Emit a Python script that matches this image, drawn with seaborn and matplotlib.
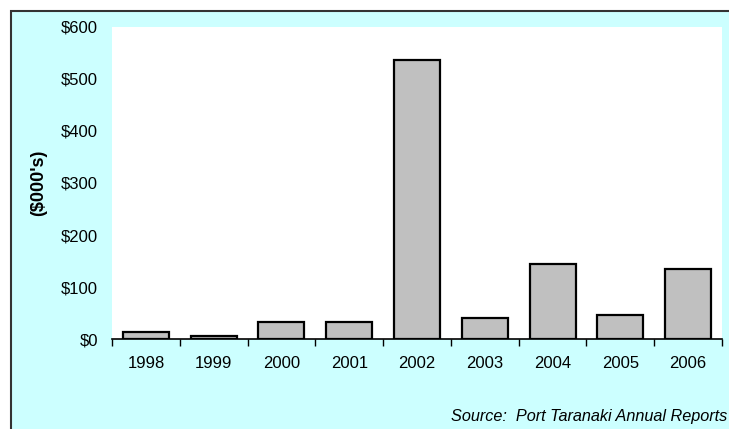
import matplotlib
matplotlib.use("Agg")
import matplotlib.pyplot as plt
from matplotlib.patches import Rectangle
from matplotlib.ticker import FixedLocator, FuncFormatter
import seaborn as sns
import pandas as pd

years = ["1998", "1999", "2000", "2001", "2002", "2003", "2004", "2005", "2006"]
values = [14, 7, 34, 33, 536, 41, 144, 47, 134]
y_ticks = [0, 100, 200, 300, 400, 500, 600]
y_label = "($000's)"
source_note = "Source:  Port Taranaki Annual Reports"

sns.set_theme(style="white")
plt.rcParams["font.family"] = ["Liberation Sans", "DejaVu Sans"]

W, H = 729, 429
fig = plt.figure(figsize=(W / 100, H / 100), dpi=100, facecolor="white")

# cyan chart area with a dark frame
fig.patches.append(Rectangle((11 / W, -0.1), 1.2, (H - 11) / H + 0.1,
                             transform=fig.transFigure, facecolor="#CCFFFF",
                             edgecolor="#333333", linewidth=1.5, zorder=-5))

ax = fig.add_axes([112 / W, 89.7 / H, 610 / W, 312.7 / H])
ax.set_zorder(2)
ax.set_facecolor("white")

df = pd.DataFrame({"year": years, "value": values})
sns.barplot(data=df, x="year", y="value", color="#C0C0C0", edgecolor="black",
            linewidth=1.6, width=0.68, saturation=1, ax=ax)

ax.set_xlim(-0.5, len(years) - 0.5)
ax.set_ylim(0, 600)
ax.set_yticks(y_ticks)
ax.yaxis.set_major_formatter(FuncFormatter(lambda v, p: f"${int(v)}"))
ax.tick_params(axis="y", length=0, pad=10, labelsize=12, colors="black")

# category boundary ticks below the baseline
ax.xaxis.set_minor_locator(FixedLocator([i - 0.5 for i in range(len(years) + 1)]))
ax.tick_params(axis="x", which="major", length=0, pad=12, labelsize=12, colors="black")
ax.tick_params(axis="x", which="minor", length=5, width=1, color="black", direction="out",
               bottom=True)

for side in ["left", "right", "top"]:
    ax.spines[side].set_visible(False)
ax.spines["bottom"].set_color("black")
ax.spines["bottom"].set_linewidth(1.2)

ax.set_xlabel("")
ax.set_ylabel(y_label, fontsize=13, fontweight="bold", color="black")
ax.yaxis.set_label_coords(-(112 - 47) / 610, 0.5)

fig.text(727 / W, 1 - 417 / H, source_note, ha="right", va="center",
         fontsize=11.7, style="italic", color="black")

fig.savefig("out.png", dpi=100, facecolor=fig.get_facecolor())
